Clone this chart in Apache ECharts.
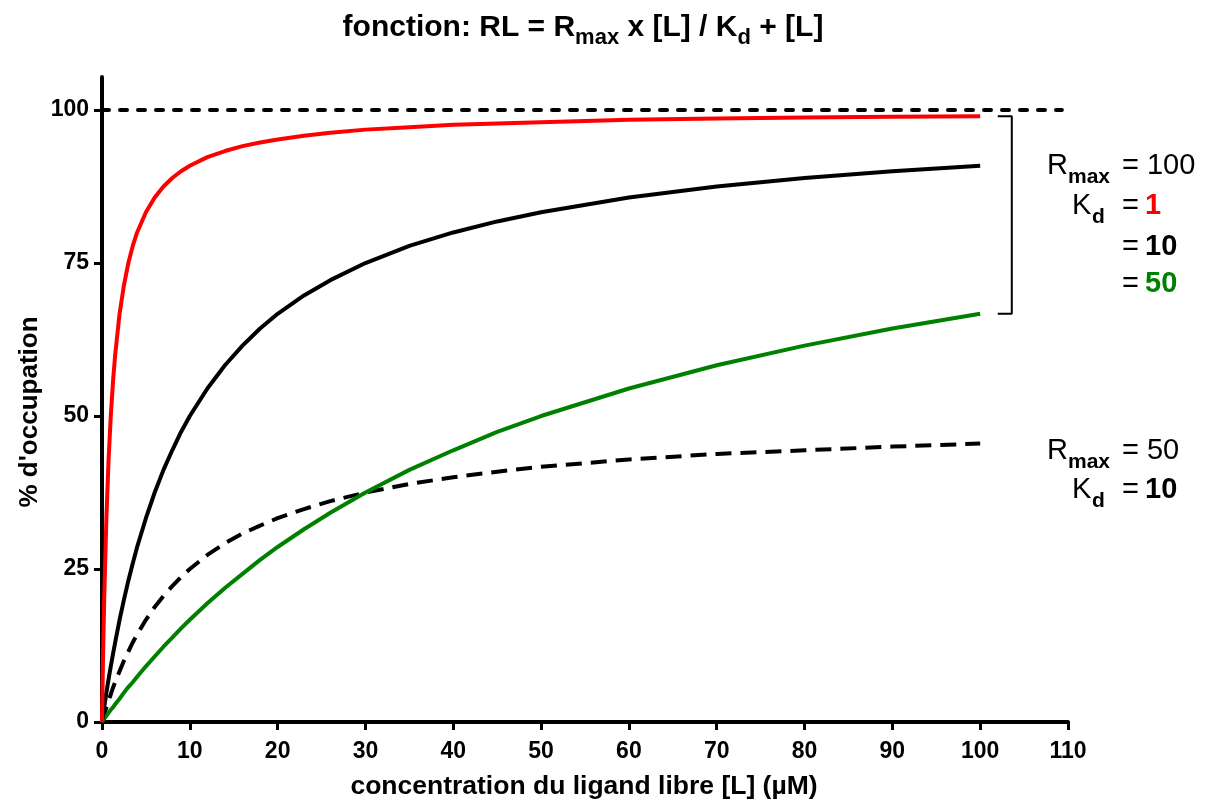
<!DOCTYPE html>
<html>
<head>
<meta charset="utf-8">
<script src="https://cdn.jsdelivr.net/npm/echarts@6/dist/echarts.min.js"></script>
<style>
  html, body { margin: 0; padding: 0; background: #fff; }
  #chart { width: 1218px; height: 802px; }
</style>
</head>
<body>
<div id="chart"></div>
<script>
// Ligand concentration [L] (µM) sampled along each binding curve
const concentrations = [0, 0.1, 0.25, 0.5, 0.75, 1, 1.25, 1.5, 2, 2.5, 3, 3.5, 4, 5, 6, 7, 8, 9, 10, 12, 14, 16, 18, 20, 23, 26, 30, 35, 40, 45, 50, 60, 70, 80, 90, 100];

// % occupation for Rmax = 100, Kd = 1
const occRmax100Kd1 = [0, 9.1, 20.0, 33.3, 42.9, 50.0, 55.6, 60.0, 66.7, 71.4, 75.0, 77.8, 80.0, 83.3, 85.7, 87.5, 88.9, 90.0, 90.9, 92.3, 93.3, 94.1, 94.7, 95.2, 95.8, 96.3, 96.8, 97.2, 97.6, 97.8, 98.0, 98.4, 98.6, 98.8, 98.9, 99.0];
// % occupation for Rmax = 100, Kd = 10
const occRmax100Kd10 = [0, 1.0, 2.4, 4.8, 7.0, 9.1, 11.1, 13.0, 16.7, 20.0, 23.1, 25.9, 28.6, 33.3, 37.5, 41.2, 44.4, 47.4, 50.0, 54.5, 58.3, 61.5, 64.3, 66.7, 69.7, 72.2, 75.0, 77.8, 80.0, 81.8, 83.3, 85.7, 87.5, 88.9, 90.0, 90.9];
// % occupation for Rmax = 100, Kd = 50
const occRmax100Kd50 = [0, 0.2, 0.5, 1.0, 1.5, 2.0, 2.4, 2.9, 3.8, 4.8, 5.7, 6.5, 7.4, 9.1, 10.7, 12.3, 13.8, 15.3, 16.7, 19.4, 21.9, 24.2, 26.5, 28.6, 31.5, 34.2, 37.5, 41.2, 44.4, 47.4, 50.0, 54.5, 58.3, 61.5, 64.3, 66.7];
// % occupation for Rmax = 50, Kd = 10
const occRmax50Kd10 = [0, 0.5, 1.2, 2.4, 3.5, 4.5, 5.6, 6.5, 8.3, 10.0, 11.5, 13.0, 14.3, 16.7, 18.8, 20.6, 22.2, 23.7, 25.0, 27.3, 29.2, 30.8, 32.1, 33.3, 34.8, 36.1, 37.5, 38.9, 40.0, 40.9, 41.7, 42.9, 43.8, 44.4, 45.0, 45.5];

// Tick labels
const xTicks = [0, 10, 20, 30, 40, 50, 60, 70, 80, 90, 100, 110];
const yTicks = [0, 25, 50, 75, 100];

// Saturation level (Rmax = 100) and the bracket grouping the three Rmax = 100 curves
const saturationLine = [[0, 100], [109.3, 100]];
const bracket = [[102.0, 99.0], [103.6, 99.0], [103.6, 66.7], [102.0, 66.7]];

const FONT = "'Liberation Sans', Arial, sans-serif";

function pairs(xs, ys) { return xs.map((x, i) => [x, ys[i]]); }

function curve(name, ys, color, type) {
  return {
    name: name,
    type: 'line',
    data: pairs(concentrations, ys),
    smooth: false,
    showSymbol: false,
    lineStyle: { color: color, width: 4, type: type || 'solid', join: 'round' },
    z: 3
  };
}

// Plain text placed by its centre line
function txt(x, y, text, size, bold, color) {
  return {
    type: 'text', x: x, y: y, z: 10,
    style: {
      text: text, fontFamily: FONT, fontSize: size,
      fontWeight: bold ? 'bold' : 'normal', fill: color || '#000',
      align: 'left', verticalAlign: 'middle'
    }
  };
}

// "R max" / "K d" with a bold subscript
function sym(x, y, main, sub, subX) {
  return [txt(x, y, main, 29, false), txt(subX, y + 11, sub, 21, true)];
}

const chart = echarts.init(document.getElementById('chart'), null, { renderer: 'canvas' });

chart.setOption({
  animation: false,
  backgroundColor: '#fff',
  grid: { left: 102, right: 150, top: 77, bottom: 80, containLabel: false },
  xAxis: {
    type: 'value', min: 0, max: 110, interval: 10,
    axisLine: { show: true, lineStyle: { color: '#000', width: 4 } },
    axisTick: { show: true, length: 8, lineStyle: { color: '#000', width: 3 } },
    axisLabel: {
      margin: 18, fontFamily: FONT, fontSize: 23, fontWeight: 'bold', color: '#000',
      customValues: xTicks
    },
    splitLine: { show: false }
  },
  yAxis: {
    type: 'value', min: 0, max: 105.4,
    axisLine: { show: true, lineStyle: { color: '#000', width: 4 } },
    axisTick: { show: true, length: 8, lineStyle: { color: '#000', width: 3 }, customValues: yTicks },
    axisLabel: {
      margin: 13, fontFamily: FONT, fontSize: 23, fontWeight: 'bold', color: '#000',
      customValues: yTicks
    },
    splitLine: { show: false }
  },
  series: [
    {
      name: 'Rmax',
      type: 'line', data: saturationLine, showSymbol: false, clip: false,
      lineStyle: { color: '#000', width: 4, type: [7, 11], cap: 'round' }, z: 2
    },
    {
      name: 'bracket',
      type: 'line', data: bracket, showSymbol: false, clip: false,
      lineStyle: { color: '#000', width: 2 }, z: 2
    },
    curve('Rmax 50, Kd 10', occRmax50Kd10, '#000', [16, 9]),
    curve('Rmax 100, Kd 50', occRmax100Kd50, '#008000'),
    curve('Rmax 100, Kd 10', occRmax100Kd10, '#000'),
    curve('Rmax 100, Kd 1', occRmax100Kd1, '#ff0000')
  ],
  graphic: [
    {
      type: 'text', x: 583, y: 25, z: 10,
      style: {
        text: '{t|fonction: RL = R}{s|max}{t| x [L] / K}{s|d}{t| + [L]}',
        align: 'center', verticalAlign: 'middle',
        rich: {
          t: { fontFamily: FONT, fontSize: 30, fontWeight: 'bold', color: '#000', verticalAlign: 'bottom', lineHeight: 35 },
          s: { fontFamily: FONT, fontSize: 22, fontWeight: 'bold', color: '#000', verticalAlign: 'bottom', lineHeight: 35, padding: [0, 0, -6, 0] }
        }
      }
    },
    {
      type: 'text', x: 584, y: 787, z: 10,
      style: {
        text: 'concentration du ligand libre [L] (µM)',
        fontFamily: FONT, fontSize: 26.5, fontWeight: 'bold', fill: '#000',
        align: 'center', verticalAlign: 'middle'
      }
    },
    {
      type: 'text', x: 30, y: 412, rotation: Math.PI / 2, z: 10,
      style: {
        text: "% d'occupation",
        fontFamily: FONT, fontSize: 26, fontWeight: 'bold', fill: '#000',
        align: 'center', verticalAlign: 'middle'
      }
    },
    // Rmax = 100 block
    ...sym(1047, 166, 'R', 'max', 1068),
    txt(1122, 166, '= 100', 29, false),
    ...sym(1072, 206, 'K', 'd', 1092),
    txt(1122, 206, '=', 29, false),
    txt(1145, 206, '1', 29, true, '#ff0000'),
    txt(1122, 247, '=', 29, false),
    txt(1145, 247, '10', 29, true, '#000'),
    txt(1122, 284, '=', 29, false),
    txt(1145, 284, '50', 29, true, '#008000'),
    // Rmax = 50 block
    ...sym(1047, 451, 'R', 'max', 1068),
    txt(1122, 451, '= 50', 29, false),
    ...sym(1072, 490, 'K', 'd', 1092),
    txt(1122, 490, '=', 29, false),
    txt(1145, 490, '10', 29, true, '#000')
  ]
});
</script>
</body>
</html>
